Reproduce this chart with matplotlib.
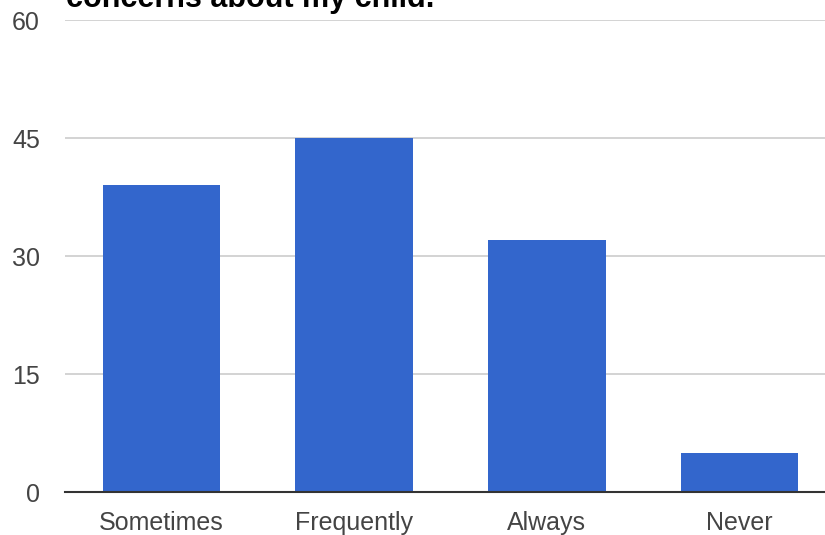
import matplotlib.pyplot as plt
import numpy as np

plt.rcParams["font.family"] = ["Liberation Sans", "DejaVu Sans"]

# ── Data ──
categories = ["Sometimes", "Frequently", "Always", "Never"]
counts = [39, 45, 32, 5]
yticks = [0, 15, 30, 45, 60]
title = "concerns about my child."

W, H = 825, 535
fig = plt.figure(figsize=(W / 100, H / 100), dpi=100)
ax = fig.add_axes([65 / W, 43 / H, 771 / W, 472 / H])

x = np.arange(len(categories))
ax.bar(x, counts, width=0.61, color="#3366CC", zorder=3)

ax.set_xlim(-0.5, len(categories) - 0.5)
ax.set_ylim(0, 60)
ax.set_yticks(yticks)
ax.set_xticks(x)
ax.set_xticklabels(categories)
ax.tick_params(axis="both", length=0, labelsize=18, colors="#444444")
ax.tick_params(axis="x", pad=14)
ax.tick_params(axis="y", pad=18)

ax.grid(axis="y", color="#cccccc", linewidth=1.2, zorder=0)
for s in ["top", "right", "left"]:
    ax.spines[s].set_visible(False)
ax.spines["bottom"].set_color("#333333")
ax.spines["bottom"].set_linewidth(1.5)
ax.spines["bottom"].set_zorder(4)

# title is cropped at the top edge in the source screenshot
fig.text(66 / W, 528 / H, title, fontsize=22, fontweight="bold",
         color="black", ha="left", va="baseline")

fig.savefig("out.png", dpi=100)
